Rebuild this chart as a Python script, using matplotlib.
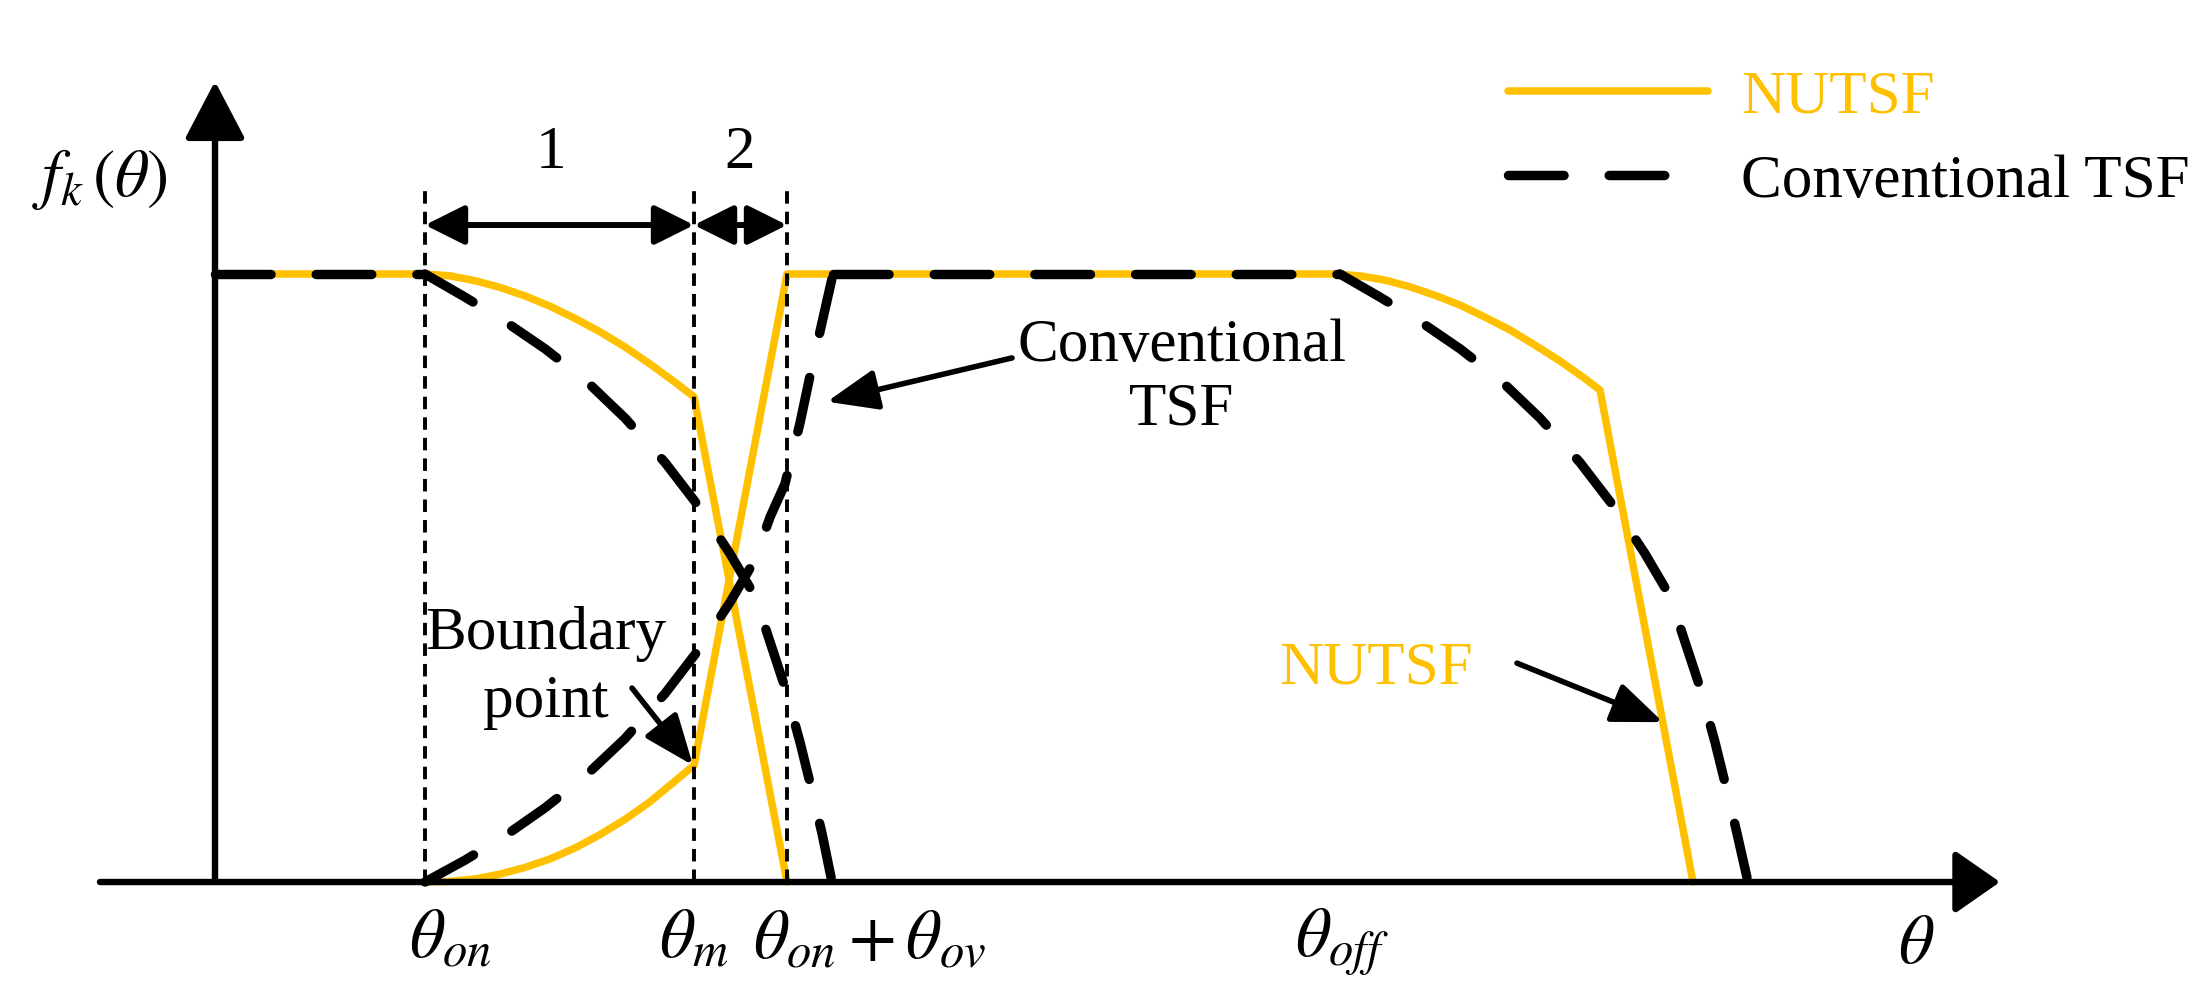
import matplotlib
matplotlib.use("Agg")
import matplotlib.pyplot as plt
from matplotlib.patches import FancyArrowPatch

plt.rcParams['font.family'] = ['Liberation Serif', 'DejaVu Serif']
plt.rcParams['mathtext.fontset'] = 'stix'
plt.rcParams['lines.scale_dashes'] = False

ORANGE = '#FFC000'

# ---------------- data (diagram units: theta, f) ----------------
theta_on = 21.0
theta_m = 47.9
theta_on_ov = 57.2
theta_off = 112.0

# NUTSF: outgoing phase (flat, falls from 1 at theta_on, kink at theta_m, 0 at theta_on+theta_ov)
nu_fall_theta = [0.0, 21.0, 23.5, 26.0, 28.5, 31.0, 33.5, 36.0, 38.5, 41.0, 43.5, 46.0, 47.9, 57.2]
nu_fall_f = [1.0, 1.000, 0.997, 0.989, 0.978, 0.964, 0.947, 0.927, 0.905, 0.880, 0.852, 0.822, 0.798, 0.000]

# NUTSF: incoming phase (rises, flat top, falls after theta_off)
nu_rise_theta = [21.0, 23.5, 26.0, 28.5, 31.0, 33.5, 36.0, 38.5, 41.0, 43.5, 46.0, 47.9, 57.2]
nu_rise_f = [0.000, 0.001, 0.005, 0.013, 0.024, 0.038, 0.056, 0.078, 0.103, 0.132, 0.166, 0.192, 1.000]
nu_off_theta = [112.0, 114.5, 117.0, 119.5, 122.0, 124.5, 127.0, 129.5, 132.0, 134.5, 137.0, 138.5, 147.8]
nu_off_f = [1.000, 0.997, 0.990, 0.979, 0.965, 0.949, 0.929, 0.908, 0.883, 0.857, 0.828, 0.809, 0.000]

# Conventional TSF
conv_flat1_theta = [0.0, 21.0]
conv_flat1_f = [1.0, 1.0]
conv_fall_theta = [21.0, 25.0, 29.0, 33.0, 37.0, 41.0, 45.0, 48.5, 51.5, 54.0,
                   55.5, 57.0, 58.5, 59.7, 60.7, 61.7]
conv_fall_f = [1.000, 0.962, 0.922, 0.877, 0.826, 0.763, 0.690, 0.615, 0.540, 0.470,
               0.395, 0.320, 0.230, 0.150, 0.080, 0.000]
conv_rise_theta = [21.0, 25.0, 29.0, 33.0, 37.0, 41.0, 45.0, 48.5, 51.5, 54.0,
                   55.5, 57.0, 58.5, 59.7, 60.7, 61.8]
conv_rise_f = [0.000, 0.036, 0.076, 0.122, 0.174, 0.236, 0.310, 0.385, 0.460, 0.530,
               0.600, 0.655, 0.755, 0.848, 0.920, 1.000]
conv_flat2_theta = [61.8, 112.5]
conv_flat2_f = [1.0, 1.0]
conv_off_theta = [112.5, 116.5, 120.5, 124.5, 128.5, 132.5, 136.5, 140.0, 143.0, 145.5,
                  147.0, 148.5, 150.0, 151.2, 152.2, 153.3]
conv_off_f = [1.000, 0.962, 0.922, 0.877, 0.826, 0.763, 0.690, 0.615, 0.540, 0.470,
              0.395, 0.320, 0.230, 0.150, 0.080, 0.000]

guide_thetas = [theta_on, theta_m, theta_on_ov]
guide_top = 1.14
x_labels = [r'$\theta_{on}$', r'$\theta_m$', r'$\theta_{on}+\theta_{ov}$', r'$\theta_{off}$', r'$\theta$']
x_label_pos = [19.4, 44.4, 53.8, 108.0, 168.3]
legend_labels = ['NUTSF', 'Conventional TSF']

# ---------------- figure ----------------
fig = plt.figure(figsize=(22.08, 10.08), dpi=100)
ax = fig.add_axes([0, 0, 1, 1])
ax.set_xlim(-21.5, 199.3)
ax.set_ylim(-0.2072, 1.4507)
ax.axis('off')


def arrow(p0, p1, axial, half, lw, style='-|>'):
    hl = (axial ** 2 + half ** 2) ** 0.5
    hw = hl * half / axial
    ax.add_patch(FancyArrowPatch(p0, p1, arrowstyle=f'{style},head_length={hl},head_width={hw}',
                                 mutation_scale=1, lw=lw, color='black',
                                 shrinkA=0, shrinkB=0, zorder=5))


# axes with arrows
arrow((-11.5, 0.0), (178.5, 0.0), 23, 16, 4.6)
arrow((0.0, 0.0), (0.0, 1.317), 31.7, 16.6, 4.6)

# vertical guides
ax.vlines(guide_thetas, 0, guide_top, colors='black', lw=2.8,
          linestyles=[(0, (9, 5.8))], zorder=3)

# NUTSF curves
nu_style = dict(color=ORANGE, lw=5.4, solid_capstyle='round', solid_joinstyle='round', zorder=2)
nu_line, = ax.plot(nu_fall_theta, nu_fall_f, **nu_style)
ax.plot(nu_rise_theta + nu_off_theta, nu_rise_f + nu_off_f, **nu_style)

# Conventional TSF curves
cv_style = dict(color='black', lw=6.8, linestyle=(0, (40, 32.5)), dash_capstyle='round', zorder=4)
conv_line, = ax.plot(conv_flat1_theta, conv_flat1_f, **cv_style)
ax.plot(conv_fall_theta, conv_fall_f, **cv_style)
ax.plot(conv_rise_theta, conv_rise_f, **cv_style)
ax.plot(conv_flat2_theta, conv_flat2_f, **cv_style)
ax.plot(conv_off_theta, conv_off_f, **cv_style)

# interval arrows 1 and 2
arrow((theta_on, 1.0806), (theta_m, 1.0806), 21.6, 10.8, 4.3, '<|-|>')
arrow((theta_m, 1.0806), (theta_on_ov, 1.0806), 21.6, 10.8, 4.3, '<|-|>')
ax.text(33.6, 1.174, '1', fontsize=44, ha='center', va='baseline')
ax.text(52.5, 1.174, '2', fontsize=44, ha='center', va='baseline')

# y label
ax.text(-11.5, 1.128, r'$f_k\,(\theta)$', fontsize=48, ha='center', va='baseline')

# x labels
for lab, xp in zip(x_labels, x_label_pos):
    yb = -0.133 if lab == r'$\theta$' else -0.123
    ax.text(xp, yb, lab, fontsize=50, ha='left', va='baseline')

# annotations (multi-line text: baseline refers to the last line)
ax.text(96.7, 0.752, 'Conventional\nTSF', fontsize=44, ha='center', va='baseline', linespacing=1.2)
arrow((79.7, 0.862), (61.2, 0.79), 28.8, 11.5, 4.0)

ax.text(33.1, 0.271, 'Boundary\npoint', fontsize=44, ha='center', va='baseline', linespacing=1.3)
arrow((41.7, 0.319), (47.8, 0.192), 28.8, 11.5, 4.0)

ax.text(116.1, 0.327, 'NUTSF', color=ORANGE, fontsize=44, ha='center', va='baseline')
arrow((130.2, 0.360), (144.8, 0.263), 28.8, 11.5, 4.0)

# legend
leg = ax.legend([nu_line, conv_line], legend_labels, loc='upper left',
                bbox_to_anchor=(0.683, 0.9306), frameon=False, fontsize=44,
                handlelength=3.27, handletextpad=0.54, labelspacing=0.46,
                borderpad=0, borderaxespad=0)
leg.get_texts()[0].set_color(ORANGE)

fig.savefig('out.png', dpi=100)
